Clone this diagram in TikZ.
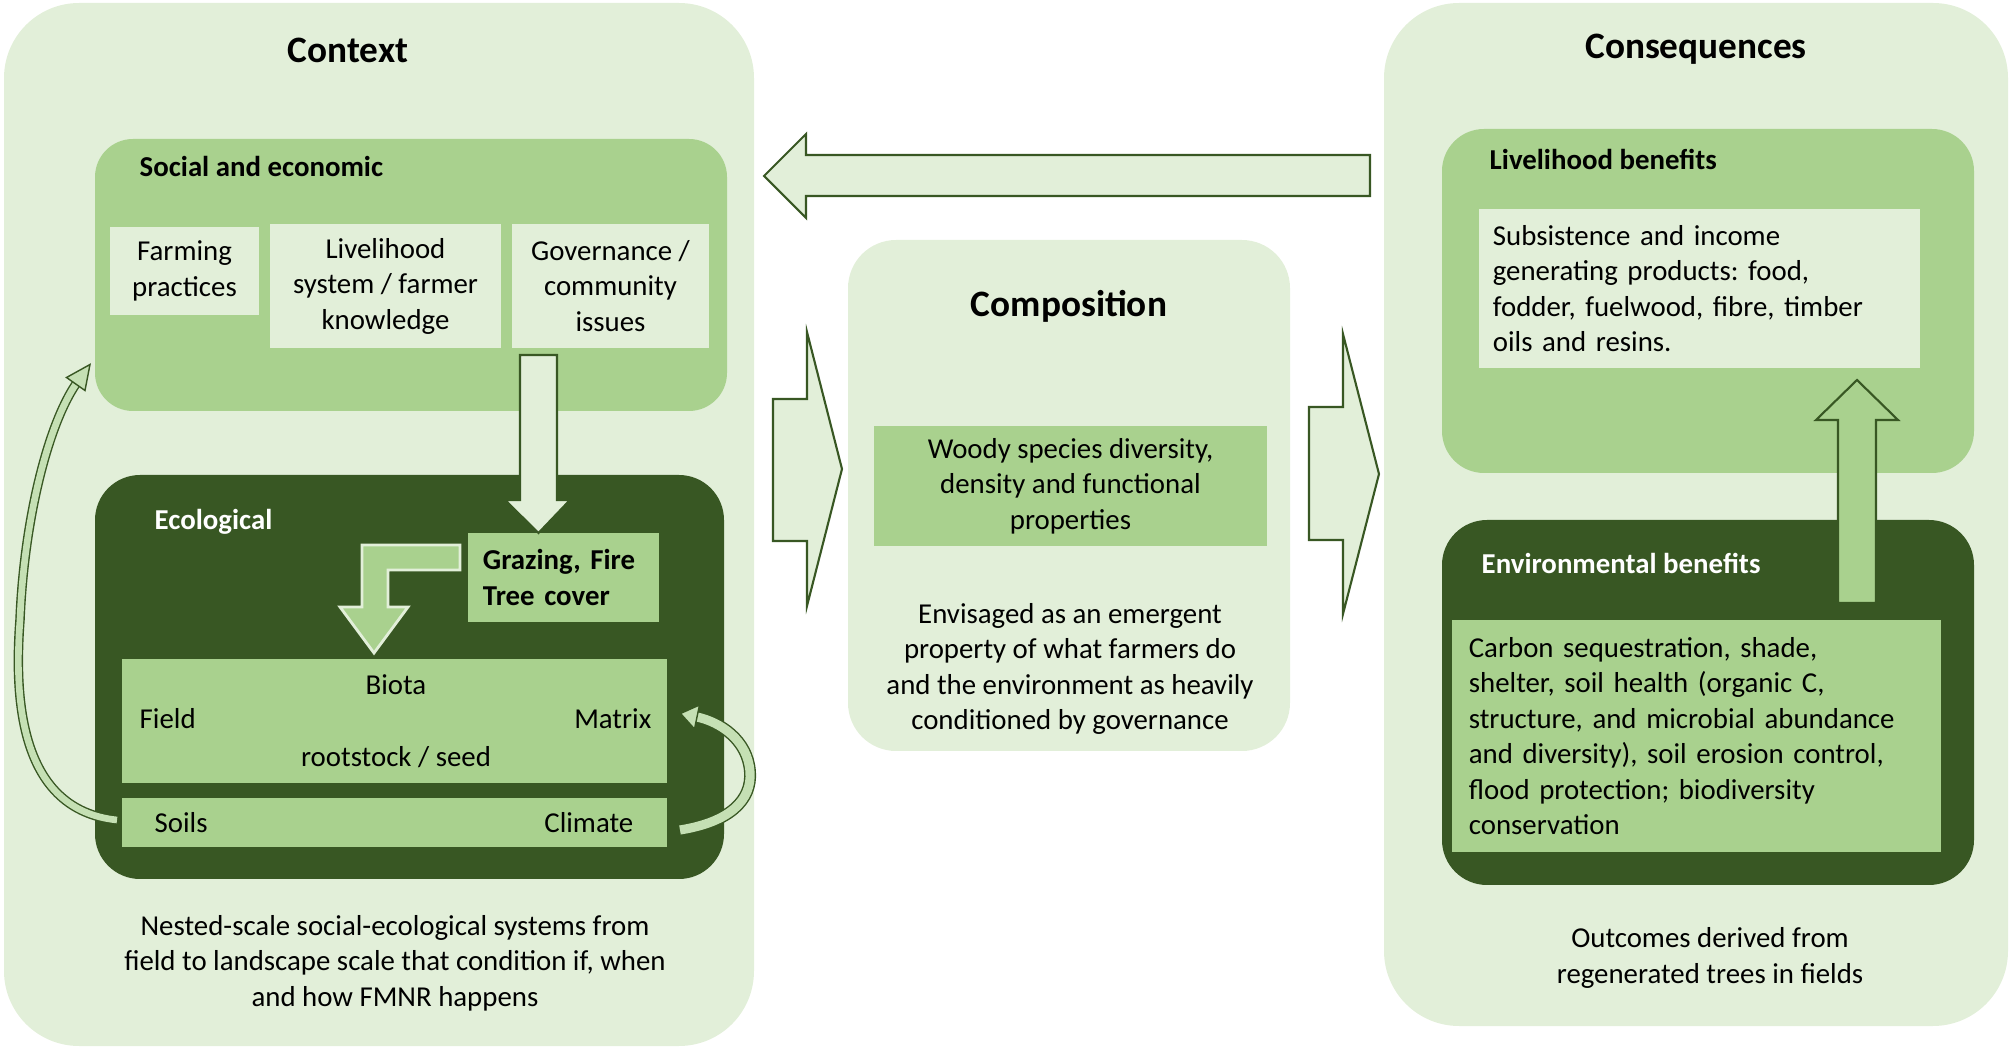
\documentclass[tikz,border=0pt]{standalone}
\usepackage{fontspec}
\setmainfont{Carlito}
\usetikzlibrary{fit}
\frenchspacing
\definecolor{paleg}{HTML}{E2EFD9}
\definecolor{midg}{HTML}{A9D18E}
\definecolor{darkg}{HTML}{385723}
\definecolor{bandg}{HTML}{C5E0B4}
\tikzset{
    panel/.style={inner sep=0pt, fill=paleg, rounded corners=0.75cm},
    group/.style={inner sep=0pt, fill=midg, rounded corners=0.38cm},
    ecogroup/.style={inner sep=0pt, fill=darkg, rounded corners=0.45cm},
    palebox/.style={inner sep=0pt, fill=paleg, align=center, font=\fontsize{8.2}{10.1}\selectfont},
    midbox/.style={inner sep=0pt, fill=midg, align=center, font=\fontsize{8.2}{10.1}\selectfont},
    bodytext/.style={inner sep=0pt, align=center, font=\fontsize{8.2}{10.1}\selectfont},
    paneltitle/.style={inner sep=0pt, font=\fontsize{10.6}{12}\selectfont\bfseries},
    grouplabel/.style={inner sep=0pt, anchor=west, font=\fontsize{8.2}{10.1}\selectfont\bfseries},
    blockarrow/.style={fill=paleg, draw=darkg, line width=0.6pt},
    band/.style={draw=darkg, line width=0.4pt, double=bandg}
}
\begin{document}
\begin{tikzpicture}[x=0.01cm, y=-0.01cm]
    \useasboundingbox (0,0) rectangle (2014,1049);
    \node[panel, fit={(4,3) (754,1046)}] (ctx) {};
    \node[panel, rounded corners=0.48cm, fit={(848,240) (1290,751)}] (comp) {};
    \node[panel, fit={(1384,3) (2008,1026)}] (cons) {};

    \node[paneltitle] (ctxtitle) at (348,50) {Context};
    \node[group, fit={(95,139) (727,411)}] (social) {};
    \node[grouplabel] (sociallabel) at (139,166) {Social and economic};
    \node[palebox, minimum width=1.49cm, minimum height=0.88cm] (farming) at (184.5,271) {Farming\\practices};
    \node[palebox, minimum width=2.31cm, minimum height=1.24cm] (livelihood) at (385.5,286) {Livelihood\\system / farmer\\knowledge};
    \node[palebox, minimum width=1.97cm, minimum height=1.24cm] (governance) at (610.5,286) {Governance /\\community\\issues};

    \node[ecogroup, fit={(95,475) (724,879)}] (ecol) {};
    \node[grouplabel, text=white] (ecollabel) at (154,522) {Ecological};
    \node[midbox, align=left, font=\fontsize{8.2}{10.1}\selectfont\bfseries, text width=1.61cm, inner xsep=0.15cm, minimum height=0.89cm] (grazing) at (563.5,577.5) {Grazing, Fire\\Tree cover};
    \node[midbox, fit={(122,659) (667,783)}] (biota) {};
    \node[bodytext] (biotatxt) at (396,685) {Biota};
    \node[bodytext, anchor=west] (fieldtxt) at (139,719) {Field};
    \node[bodytext, anchor=east] (matrixtxt) at (652,719) {Matrix};
    \node[bodytext] (seedtxt) at (396,757) {rootstock / seed};
    \node[midbox, fit={(122,798) (667,847)}] (soils) {};
    \node[bodytext, anchor=west] (soilstxt) at (154,823) {Soils};
    \node[bodytext, anchor=east] (climatetxt) at (634,823) {Climate};
    \node[bodytext] (ctxnote) at (395,963) {Nested-scale social-ecological systems from\\field to landscape scale that condition if, when\\and how FMNR happens};

    \node[paneltitle] (comptitle) at (1069,306) {Composition};
    \node[midbox, minimum width=3.93cm, minimum height=1.2cm] (woody) at (1070.5,486) {Woody species diversity,\\density and functional\\properties};
    \node[bodytext] (compnote) at (1070,669) {Envisaged as an emergent\\property of what farmers do\\and the environment as heavily\\conditioned by governance};

    \node[paneltitle] (constitle) at (1696,49) {Consequences};
    \node[group, rounded corners=0.42cm, fit={(1442,129) (1974,473)}] (livben) {};
    \node[grouplabel] (livbenlabel) at (1489,159) {Livelihood benefits};
    \node[palebox, align=left, text width=4.13cm, inner xsep=0.14cm, minimum height=1.59cm] (subsist) at (1699.5,288.5) {Subsistence and income\\generating products: food,\\fodder, fuelwood, fibre, timber\\oils and resins.};
    \node[ecogroup, fit={(1442,520) (1974,885)}] (envben) {};
    \node[grouplabel, text=white] (envbenlabel) at (1481,563) {Environmental benefits};
    \node[midbox, align=left, text width=4.55cm, inner xsep=0.17cm, minimum height=2.32cm] (carbon) at (1696.5,736) {Carbon sequestration, shade,\\shelter, soil health (organic C,\\structure, and microbial abundance\\and diversity), soil erosion control,\\flood protection; biodiversity\\conservation};
    \node[bodytext] (consnote) at (1710,958) {Outcomes derived from\\regenerated trees in fields};

    \draw[blockarrow] (764,176) -- (806,134) -- (806,155) -- (1370,155) -- (1370,196) -- (806,196) -- (806,218) -- cycle;
    \draw[blockarrow] (773,399) -- (807,399) -- (807,332) -- (842,469) -- (807,606) -- (807,541) -- (773,541) -- cycle;
    \draw[blockarrow] (1309,407) -- (1343,407) -- (1343,334) -- (1379,474) -- (1343,614) -- (1343,540) -- (1309,540) -- cycle;
    \draw[blockarrow, fill=midg] (1838,603) -- (1838,420) -- (1816,420) -- (1857,380) -- (1898,420) -- (1876,420) -- (1876,603) -- cycle;
    \draw[blockarrow] (520,355) -- (557,355) -- (557,500) -- (570,500) -- (538.5,533) -- (505,500) -- (520,500) -- cycle;
    \draw[blockarrow, fill=midg, draw=paleg, line width=0.8pt] (460,545) -- (362,545) -- (362,607) -- (340,607) -- (374,653) -- (408,607) -- (388,607) -- (388,570) -- (460,570) -- cycle;

    \coordinate (lbase) at (117,820);
    \coordinate (lend) at (76,384);
    \draw[band, double distance=1.9pt] (lbase) .. controls (20,810) and (14,700) .. (20,620) .. controls (24,520) and (48,425) .. (lend);
    \draw[blockarrow, fill=bandg, line width=0.4pt] (66.5,377.5) -- (90,364.5) -- (85,390.5) -- cycle;
    \coordinate (rbase) at (680,830);
    \coordinate (rend) at (697,717);
    \draw[band, double distance=2.6pt] (rbase) .. controls (730,822) and (752,800) .. (750,772) .. controls (748,740) and (720,722) .. (rend);
    \draw[blockarrow, fill=bandg, line width=0.4pt] (699.5,705) -- (680.5,713.5) -- (694.5,729) -- cycle;
\end{tikzpicture}
\end{document}
